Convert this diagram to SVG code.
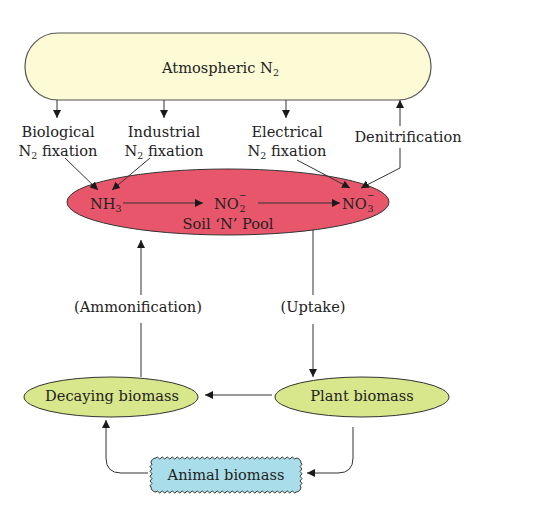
<svg xmlns="http://www.w3.org/2000/svg" width="533" height="522" viewBox="0 0 533 522">
<defs>
<marker id="ah" markerUnits="userSpaceOnUse" markerWidth="9" markerHeight="8" refX="8" refY="4" orient="auto">
<path d="M0,0 L8,4 L0,8 z" fill="#1a1a1a"/>
</marker>
<style>
text{font-family:"DejaVu Serif","Liberation Serif",serif;font-size:14.6px;fill:#222;}
.c{text-anchor:middle;}
.sub{font-size:9.5px;}
.ln{stroke:#333;stroke-width:1;fill:none;}
.arr{stroke:#333;stroke-width:1;fill:none;marker-end:url(#ah);}
</style>
</defs>
<rect width="533" height="522" fill="#ffffff"/>

<g id="atmospheric">
<rect x="25" y="33" width="406" height="67" rx="33" ry="33" fill="#fdfbd6" stroke="#555" stroke-width="1.2"/>
<text x="162" y="73">Atmospheric N<tspan class="sub" dy="3">2</tspan></text>
</g>

<g id="biological"><text class="c" x="58" y="137">Biological</text><text class="c" x="58" y="156">N<tspan class="sub" dy="3">2</tspan><tspan dy="-3"> fixation</tspan></text></g>
<g id="industrial"><text class="c" x="164" y="137">Industrial</text><text class="c" x="164" y="156">N<tspan class="sub" dy="3">2</tspan><tspan dy="-3"> fixation</tspan></text></g>
<g id="electrical"><text class="c" x="287" y="137">Electrical</text><text class="c" x="287" y="156">N<tspan class="sub" dy="3">2</tspan><tspan dy="-3"> fixation</tspan></text></g>
<g id="denitrification"><text class="c" x="408" y="142">Denitrification</text></g>

<g id="soil-pool">
<ellipse cx="228" cy="202" rx="161" ry="33" fill="#e8566b" stroke="#333" stroke-width="1"/>
<text x="90" y="209">NH<tspan class="sub" dy="3">3</tspan></text>
<text x="214" y="209">NO</text><text x="239" y="198" style="font-size:9px">−</text><text class="sub" x="239.5" y="212">2</text>
<text x="342" y="209">NO</text><text x="367" y="198" style="font-size:9px">−</text><text class="sub" x="367.5" y="212">3</text>
<text class="c" x="228" y="229">Soil ‘N’ Pool</text>
</g>

<g id="decaying-biomass">
<ellipse cx="111" cy="397" rx="87" ry="20" fill="#d8e68c" stroke="#333" stroke-width="1"/>
<text class="c" x="112" y="401">Decaying biomass</text>
</g>
<g id="plant-biomass">
<ellipse cx="362" cy="397" rx="87" ry="20" fill="#d8e68c" stroke="#333" stroke-width="1"/>
<text class="c" x="362" y="401">Plant biomass</text>
</g>
<g id="animal-biomass">
<path d="M156,458 q1.25,-2 2.5,0 t2.5,0 2.5,0 2.5,0 2.5,0 2.5,0 2.5,0 2.5,0 2.5,0 2.5,0 2.5,0 2.5,0 2.5,0 2.5,0 2.5,0 2.5,0 2.5,0 2.5,0 2.5,0 2.5,0 2.5,0 2.5,0 2.5,0 2.5,0 2.5,0 2.5,0 2.5,0 2.5,0 2.5,0 2.5,0 2.5,0 2.5,0 2.5,0 2.5,0 2.5,0 2.5,0 2.5,0 2.5,0 2.5,0 2.5,0 2.5,0 2.5,0 2.5,0 2.5,0 2.5,0 2.5,0 2.5,0 2.5,0 2.5,0 2.5,0 2.5,0 2.5,0 2.5,0 2.5,0 2.5,0 2.5,0 a5,5 0 0 1 5,5 q2,1.2 0,2.4 t0,2.4 0,2.4 0,2.4 0,2.4 0,2.4 0,2.4 0,2.4 0,2.4 0,2.4 a5,5 0 0 1 -5,5 q-1.25,2 -2.5,0 t-2.5,0 -2.5,0 -2.5,0 -2.5,0 -2.5,0 -2.5,0 -2.5,0 -2.5,0 -2.5,0 -2.5,0 -2.5,0 -2.5,0 -2.5,0 -2.5,0 -2.5,0 -2.5,0 -2.5,0 -2.5,0 -2.5,0 -2.5,0 -2.5,0 -2.5,0 -2.5,0 -2.5,0 -2.5,0 -2.5,0 -2.5,0 -2.5,0 -2.5,0 -2.5,0 -2.5,0 -2.5,0 -2.5,0 -2.5,0 -2.5,0 -2.5,0 -2.5,0 -2.5,0 -2.5,0 -2.5,0 -2.5,0 -2.5,0 -2.5,0 -2.5,0 -2.5,0 -2.5,0 -2.5,0 -2.5,0 -2.5,0 -2.5,0 -2.5,0 -2.5,0 -2.5,0 -2.5,0 -2.5,0 a5,5 0 0 1 -5,-5 q-2,-1.2 0,-2.4 t0,-2.4 0,-2.4 0,-2.4 0,-2.4 0,-2.4 0,-2.4 0,-2.4 0,-2.4 0,-2.4 a5,5 0 0 1 5,-5 z" fill="#a8dde9" stroke="#333" stroke-width="1"/>
<text class="c" x="226" y="480">Animal biomass</text>
</g>

<g id="labels">
<text class="c" x="138" y="312">(Ammonification)</text>
<text class="c" x="313" y="312">(Uptake)</text>
</g>

<g id="connectors">
<line class="arr" x1="57" y1="100" x2="57" y2="118"/>
<line class="arr" x1="164" y1="100" x2="164" y2="118"/>
<line class="arr" x1="286" y1="100" x2="286" y2="118"/>
<path class="ln" d="M400,148 L400,168 L363,187"/>
<path class="ln" d="M363,187 L361,188.2" marker-end="url(#ah)"/>
<line class="arr" x1="400" y1="126" x2="400" y2="100"/>
<line class="arr" x1="65" y1="158" x2="98" y2="190"/>
<line class="arr" x1="150" y1="158" x2="112" y2="190"/>
<line class="arr" x1="297" y1="160" x2="350" y2="188"/>
<line class="arr" x1="123" y1="203" x2="203" y2="203"/>
<line class="arr" x1="258" y1="203" x2="340" y2="203"/>
<line class="ln" x1="141" y1="377" x2="141" y2="323"/>
<line class="arr" x1="141" y1="295" x2="141" y2="240"/>
<line class="ln" x1="313" y1="230" x2="313" y2="295"/>
<line class="arr" x1="313" y1="324" x2="313" y2="377"/>
<line class="arr" x1="272" y1="395" x2="205" y2="395"/>
<path class="arr" d="M353,427 L353,458 Q353,473 338,473 L307,473"/>
<path class="arr" d="M148,473 L121,473 Q106,473 106,458 L106,420"/>
</g>
</svg>
